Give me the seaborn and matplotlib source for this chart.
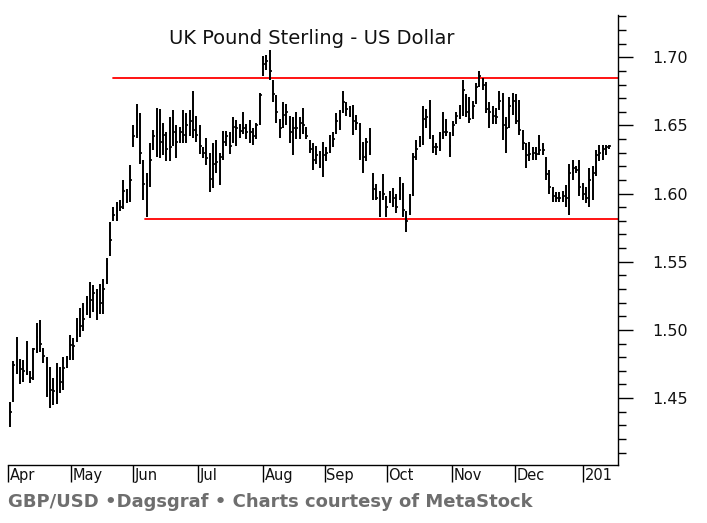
import matplotlib
matplotlib.use("Agg")
import matplotlib.pyplot as plt
import matplotlib.transforms as mtransforms
from matplotlib.ticker import MultipleLocator, FixedLocator
import numpy as np
import seaborn as sns

# ---------------- data ----------------
lows = [1.429,1.447,1.468,1.460,1.462,1.467,1.461,1.463,1.483,1.484,
        1.476,1.451,1.443,1.445,1.446,1.454,1.456,1.472,1.478,1.478,
        1.491,1.495,1.499,1.511,1.509,1.513,1.507,1.512,1.512,1.534,
        1.554,1.580,1.580,1.587,1.589,1.593,1.594,1.634,1.641,1.622,
        1.595,1.583,1.605,1.632,1.627,1.626,1.628,1.624,1.624,1.635,
        1.626,1.637,1.637,1.637,1.642,1.641,1.638,1.629,1.626,1.621,
        1.601,1.604,1.615,1.606,1.625,1.635,1.629,1.637,1.635,1.641,
        1.644,1.640,1.637,1.636,1.640,1.650,1.686,1.691,1.683,1.667,
        1.652,1.641,1.648,1.650,1.637,1.628,1.640,1.640,1.644,1.640,
        1.630,1.617,1.622,1.619,1.612,1.624,1.630,1.634,1.644,1.647,
        1.659,1.657,1.656,1.643,1.647,1.625,1.615,1.624,1.628,1.595,
        1.595,1.583,1.595,1.583,1.593,1.590,1.586,1.595,1.583,1.572,
        1.584,1.598,1.625,1.634,1.636,1.648,1.640,1.630,1.628,1.631,
        1.640,1.642,1.627,1.642,1.651,1.655,1.657,1.656,1.652,1.655,
        1.666,1.678,1.676,1.659,1.648,1.651,1.651,1.661,1.639,1.630,
        1.648,1.658,1.651,1.643,1.632,1.619,1.624,1.625,1.625,1.628,
        1.628,1.610,1.600,1.594,1.594,1.594,1.594,1.590,1.584,1.610,
        1.615,1.598,1.595,1.593,1.590,1.595,1.613,1.624,1.625,1.628,
        1.633]

highs = [1.447,1.477,1.495,1.479,1.478,1.492,1.470,1.487,1.505,1.507,
         1.487,1.480,1.473,1.465,1.476,1.473,1.480,1.481,1.496,1.494,
         1.509,1.516,1.520,1.525,1.535,1.533,1.530,1.534,1.537,1.553,
         1.579,1.590,1.594,1.595,1.610,1.603,1.621,1.650,1.666,1.659,
         1.625,1.615,1.637,1.647,1.663,1.662,1.652,1.645,1.656,1.661,
         1.650,1.649,1.661,1.659,1.661,1.675,1.657,1.650,1.634,1.641,
         1.630,1.637,1.639,1.630,1.646,1.646,1.645,1.656,1.654,1.651,
         1.660,1.651,1.654,1.648,1.652,1.674,1.701,1.702,1.705,1.683,
         1.672,1.655,1.667,1.666,1.657,1.656,1.660,1.656,1.663,1.649,
         1.639,1.637,1.635,1.631,1.638,1.634,1.643,1.645,1.659,1.661,
         1.675,1.667,1.664,1.665,1.658,1.652,1.638,1.641,1.648,1.615,
         1.607,1.602,1.614,1.598,1.602,1.604,1.600,1.612,1.608,1.587,
         1.600,1.630,1.639,1.642,1.664,1.662,1.669,1.643,1.637,1.645,
         1.660,1.655,1.645,1.653,1.660,1.665,1.683,1.673,1.671,1.668,
         1.681,1.690,1.685,1.682,1.667,1.664,1.663,1.675,1.674,1.656,
         1.671,1.674,1.673,1.669,1.647,1.637,1.638,1.634,1.634,1.643,
         1.637,1.627,1.617,1.605,1.601,1.601,1.602,1.606,1.622,1.625,
         1.620,1.625,1.608,1.605,1.619,1.620,1.632,1.636,1.636,1.636,
         1.636]

closes = [1.440,1.474,1.484,1.471,1.470,1.468,1.465,1.486,1.495,1.490,
          1.481,1.452,1.456,1.455,1.466,1.462,1.472,1.477,1.489,1.488,
          1.500,1.503,1.508,1.520,1.522,1.527,1.516,1.520,1.530,1.548,
          1.566,1.584,1.587,1.590,1.602,1.595,1.610,1.642,1.654,1.630,
          1.607,1.610,1.625,1.642,1.645,1.638,1.643,1.633,1.634,1.645,
          1.638,1.645,1.643,1.650,1.653,1.647,1.643,1.635,1.630,1.626,
          1.611,1.622,1.623,1.627,1.638,1.642,1.635,1.649,1.648,1.646,
          1.648,1.645,1.645,1.642,1.650,1.672,1.695,1.697,1.690,1.673,
          1.660,1.648,1.658,1.660,1.645,1.648,1.648,1.652,1.650,1.642,
          1.633,1.625,1.628,1.626,1.628,1.630,1.635,1.640,1.653,1.656,
          1.667,1.662,1.658,1.653,1.652,1.635,1.627,1.638,1.633,1.603,
          1.597,1.598,1.600,1.590,1.598,1.597,1.590,1.603,1.588,1.580,
          1.596,1.627,1.633,1.638,1.655,1.656,1.655,1.634,1.634,1.640,
          1.645,1.645,1.635,1.650,1.657,1.662,1.676,1.660,1.655,1.664,
          1.678,1.686,1.680,1.662,1.660,1.657,1.656,1.668,1.650,1.648,
          1.664,1.668,1.653,1.647,1.637,1.628,1.629,1.630,1.629,1.632,
          1.632,1.614,1.605,1.598,1.597,1.597,1.598,1.597,1.615,1.619,
          1.617,1.605,1.600,1.597,1.610,1.615,1.628,1.630,1.633,1.634,
          1.635]

month_labels = ["Apr", "May", "Jun", "Jul", "Aug", "Sep", "Oct", "Nov", "Dec", "201"]
month_start_bar = [-0.45, 18.3, 36.9, 56.5, 76.0, 94.6, 113.1, 132.7, 151.7, 172.1]

y_tick_values = [1.45, 1.50, 1.55, 1.60, 1.65, 1.70]
y_tick_labels = ["1.45", "1.50", "1.55", "1.60", "1.65", "1.70"]

resistance_level = 1.685
resistance_start_bar = 31.0
support_level = 1.581
support_start_bar = 40.5

title_text = "UK Pound Sterling - US Dollar"
footer_text = "GBP/USD \u2022Dagsgraf \u2022 Charts courtesy of MetaStock"

# ---------------- drawing ----------------
sns.set_theme(style="white")
plt.rcParams["font.family"] = ["DejaVu Sans"]

W, H = 707, 523
fig = plt.figure(figsize=(W / 100, H / 100), dpi=100)
fig.patch.set_facecolor("white")
ax = fig.add_axes([8 / W, 1 - 465 / H, (618 - 8) / W, (465 - 15) / H])
ax.set_facecolor("white")

n = len(highs)
bars = np.arange(n)
x_max = 182.6

# red support / resistance lines via seaborn
sns.lineplot(x=[resistance_start_bar, x_max], y=[resistance_level, resistance_level],
             color="#ff0000", linewidth=1.3, ax=ax)
sns.lineplot(x=[support_start_bar, x_max], y=[support_level, support_level],
             color="#ff0000", linewidth=1.3, ax=ax)

# OHLC style bars (high-low with close tick)
ax.vlines(bars, lows, highs, color="black", linewidth=1.4)
ax.hlines(closes, bars, bars + 0.55, color="black", linewidth=1.2)

ax.set_xlim(-0.6, x_max)
ax.set_ylim(1.4009, 1.731)

for side in ["left", "top"]:
    ax.spines[side].set_visible(False)
for side in ["right", "bottom"]:
    ax.spines[side].set_visible(True)
    ax.spines[side].set_color("black")
    ax.spines[side].set_linewidth(1.0)

# right-side y axis
ax.yaxis.tick_right()
ax.yaxis.set_label_position("right")
ax.yaxis.set_major_locator(FixedLocator(y_tick_values))
ax.set_yticklabels(y_tick_labels)
ax.yaxis.set_minor_locator(MultipleLocator(0.01))
ax.tick_params(axis="y", which="major", direction="out", length=11, width=1.0,
               color="black", labelsize=11.5, labelcolor="#111111", pad=14,
               left=False, right=True)
ax.tick_params(axis="y", which="minor", direction="out", length=5.5, width=1.0,
               color="black", left=False, right=True)

# bottom month boundaries
ax.set_xticks(month_start_bar)
ax.set_xticklabels([])
ax.tick_params(axis="x", which="major", direction="out", length=12, width=1.0,
               color="black", bottom=True, top=False)
ax.grid(False)

trans = mtransforms.blended_transform_factory(ax.transData, ax.transAxes)
trans = mtransforms.offset_copy(trans, fig=fig, x=1.5, y=-3, units="dots")
for pos, lab in zip(month_start_bar, month_labels):
    ax.text(pos, 0, lab, transform=trans, ha="left", va="top",
            fontsize=10.5, color="#111111", clip_on=False)

fig.text(312 / W, 1 - 38 / H, title_text, ha="center", va="center",
         fontsize=14, color="#111111")
fig.text(8 / W, 1 - 502 / H, footer_text, ha="left", va="center",
         fontsize=13, fontweight="bold", color="#6e6e6e")

fig.savefig("out.png", dpi=100, facecolor="white")
